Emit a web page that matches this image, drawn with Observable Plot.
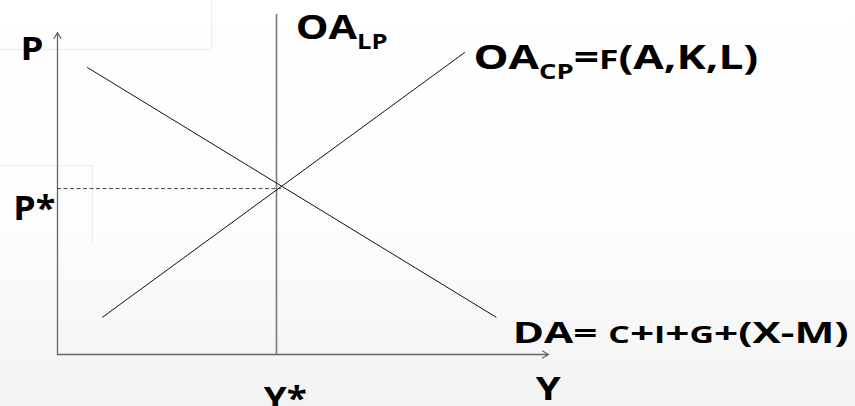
<!DOCTYPE html>
<html><head><meta charset="utf-8">
<script src="https://cdn.jsdelivr.net/npm/d3@7"></script>
<script src="https://cdn.jsdelivr.net/npm/@observablehq/plot@0.6"></script>
<style>
html,body{margin:0;padding:0;}
body{width:855px;height:406px;overflow:hidden;position:relative;background:linear-gradient(to bottom,#ffffff 0%,#fdfdfd 55%,#f3f3f3 100%);font-family:"Open Sans";}
.tpl{position:absolute;border:1px solid #ececec;border-left:none;}
#chart{position:absolute;left:0;top:0;}
</style></head><body>
<div class="tpl" style="left:0;top:-1px;width:211px;height:49px"></div>
<div class="tpl" style="left:0;top:165px;width:92px;height:77px;border-bottom:none"></div>
<div id="chart"></div>
<script>
// Aggregate demand DA (quantity Y, price P)
const daY = [0.61, 8.93];
const daP = [8.44, 1.10];
// Short-run aggregate supply OA_CP
const oaCpY = [0.92, 8.29];
const oaCpP = [1.10, 8.88];
// Long-run aggregate supply OA_LP (vertical at Y*)
const yStar = 4.46;
const oaLpP = [0, 10];
// Equilibrium price reference
const pStar = 4.88;
const pStarY = [0, 4.56];
// Axes extents
const axisMaxY = 10;
const axisMaxP = 9.47;
// Labels (lowercase = small capitals, _{..} = subscript)
const labelText = ["P", "OA_{LP}", "OA_{CP}=f(A,K,L)", "P*", "DA= c+i+g+(X-M)", "Y*", "Y"];
const labelX = [-0.754, 4.85, 8.47, -0.90, 9.27, 4.20, 9.74];
const labelY = [8.65, 9.29, 8.41, 3.97, 0.35, -1.62, -1.35];
const labelWidth = [23, 92, 285, 42, 336, 43, 25];
const labelSize = [33, 34, 34, 34, 29, 33, 33];

const da = daY.map((y, i) => ({q: y, p: daP[i]}));
const oaCp = oaCpY.map((y, i) => ({q: y, p: oaCpP[i]}));
const axes = [
  {x1: 0, y1: 0, x2: axisMaxY, y2: 0},
  {x1: 0, y1: 0, x2: 0, y2: axisMaxP}
];
const labels = labelText.map((t, i) => ({t, x: labelX[i], y: labelY[i], s: labelSize[i]}));

const svg = Plot.plot({
  width: 855, height: 406,
  marginLeft: 57, marginRight: 307, marginTop: 14, marginBottom: 52,
  style: {background: "transparent", fontFamily: "Open Sans"},
  x: {domain: [0, 10], axis: null},
  y: {domain: [0, 10], axis: null},
  marks: [
    Plot.arrow(axes, {x1: "x1", y1: "y1", x2: "x2", y2: "y2", stroke: "#666", strokeWidth: 1.3, headLength: 8, bend: 0}),
    Plot.ruleX([yStar], {y1: oaLpP[0], y2: oaLpP[1], stroke: "#7a7a7a", strokeWidth: 1.6}),
    Plot.ruleY([pStar], {x1: pStarY[0], x2: pStarY[1], stroke: "#333", strokeWidth: 0.9, strokeDasharray: "4,2.5"}),
    Plot.line(da, {x: "q", y: "p", stroke: "#111", strokeWidth: 1}),
    Plot.line(oaCp, {x: "q", y: "p", stroke: "#111", strokeWidth: 1}),
    Plot.text(labels, {x: "x", y: "y", text: "t", fontSize: "s", textAnchor: "start", lineAnchor: "bottom", fontWeight: "bold", fill: "#000"})
  ]
});
document.getElementById("chart").appendChild(svg);

// subscripts, small capitals and glyph widths
function appendRuns(el, str, scale, dy) {
  const runs = str.match(/[a-z]+|[^a-z]+/g) || [];
  let first = true;
  runs.forEach(r => {
    const lower = /^[a-z]/.test(r);
    const ts = el.append("tspan").text(r.toUpperCase()).attr("font-size", (scale * (lower ? 0.8 : 1)) + "em");
    if (first && dy) ts.attr("dy", dy);
    first = false;
  });
}
d3.select(svg).selectAll('g[aria-label="text"] text').each(function(i) {
  const t = labelText[i];
  const el = d3.select(this);
  const m = /^(.*?)_\{(.*?)\}(.*)$/.exec(t);
  el.text(null);
  if (m) {
    appendRuns(el, m[1], 1, null);
    appendRuns(el, m[2], 0.62, "10");
    if (m[3]) appendRuns(el, m[3], 1, "-10");
  } else {
    appendRuns(el, t, 1, null);
  }
  el.attr("textLength", labelWidth[i]).attr("lengthAdjust", "spacingAndGlyphs");
});
</script>
</body></html>
